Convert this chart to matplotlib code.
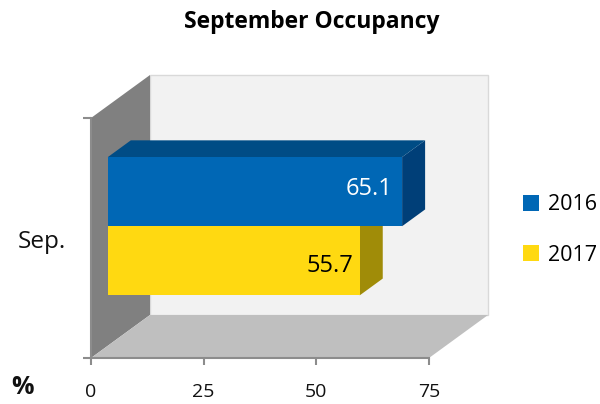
import matplotlib
matplotlib.use("Agg")
import matplotlib.pyplot as plt
from matplotlib.patches import Polygon, Patch

plt.rcParams['font.family'] = ['Open Sans', 'DejaVu Sans']

category = 'Sep.'
years = ['2016', '2017']
values = [65.1, 55.7]
x_ticks = [0, 25, 50, 75]

colors = ['#0067b5', '#ffd911']
top_colors = ['#004c85', '#c9ab0d']
side_colors = ['#003f78', '#a08c08']
text_colors = ['white', 'black']

W, H = 600, 404
fig = plt.figure(figsize=(W / 100, H / 100), dpi=100)
# axes = front plane of the 3d box
ax = fig.add_axes([91 / W, 1 - 358 / H, 338 / W, 240 / H])
ax.set_xlim(0, 75)
ax.set_ylim(0, 1)
ax.patch.set_visible(False)

# depth of the box in data units
DX = 59 / 338 * 75
DY = 43 / 240


def poly(pts, color, z=1, edge='none', lw=0):
    ax.add_patch(Polygon(pts, closed=True, facecolor=color, edgecolor=edge,
                         linewidth=lw, zorder=z, clip_on=False))


# walls
poly([(DX, DY), (75 + DX, DY), (75 + DX, 1 + DY), (DX, 1 + DY)], '#f2f2f2', 1, '#d9d9d9', 1)
poly([(0, 0), (DX, DY), (DX, 1 + DY), (0, 1)], '#808080', 2)
poly([(0, 0), (75, 0), (75 + DX, DY), (DX, DY)], '#bfbfbf', 2)

# bars
bar_h = 0.288
bar_off = 0.285
bar_depth = 0.39
bottoms = [0.5, 0.5 - bar_h]
label_dx = [-7.4, -6.7]
label_dy = [0.01, -0.02]
for i in [1, 0]:
    x0 = DX * bar_off
    y0 = DY * bar_off + bottoms[i] - 0.002
    x1 = x0 + values[i] + 0.2
    y1 = y0 + bar_h
    dx = DX * bar_depth
    dy = DY * bar_depth
    poly([(x1, y0), (x1 + dx, y0 + dy), (x1 + dx, y1 + dy), (x1, y1)], side_colors[i], 3)
    poly([(x0, y1), (x1, y1), (x1 + dx, y1 + dy), (x0 + dx, y1 + dy)], top_colors[i], 3)
    poly([(x0, y0), (x1, y0), (x1, y1), (x0, y1)], colors[i], 4)
    ax.text(x1 + label_dx[i], y0 + bar_h * 0.5 + label_dy[i], f'{values[i]}',
            color=text_colors[i], fontsize=17, ha='center', va='center', zorder=5)

# axes
for s in ['top', 'right']:
    ax.spines[s].set_visible(False)
for s in ['left', 'bottom']:
    ax.spines[s].set_color('#8c8c8c')
    ax.spines[s].set_linewidth(1.5)
    ax.spines[s].set_zorder(6)
ax.set_xticks(x_ticks)
ax.set_yticks([0, 1])
ax.set_yticklabels([])
ax.tick_params(axis='x', length=5, width=1.5, color='#8c8c8c', labelsize=14, pad=13, labelcolor='#111111')
ax.tick_params(axis='y', length=6, width=1.5, color='#8c8c8c')

fig.text(42 / W, 1 - 242 / H, category, fontsize=17.5, ha='center', va='center', color='#111111')
fig.text(22 / W, 1 - 387 / H, '%', fontsize=18, fontweight='bold', ha='center', va='center', color='#111111')
fig.text(312 / W, 1 - 22 / H, 'September Occupancy', fontsize=16.5, fontweight='bold',
         ha='center', va='center', color='black')

handles = [Patch(facecolor=c, label=y) for c, y in zip(colors, years)]
fig.legend(handles=handles, loc='center left', bbox_to_anchor=(519 / W, 1 - 230 / H), frameon=False,
           fontsize=15.5, handlelength=0.72, handleheight=0.72, handletextpad=0.45, labelspacing=1.35,
           borderpad=0.2, borderaxespad=0)

fig.savefig('out.png', dpi=100)
